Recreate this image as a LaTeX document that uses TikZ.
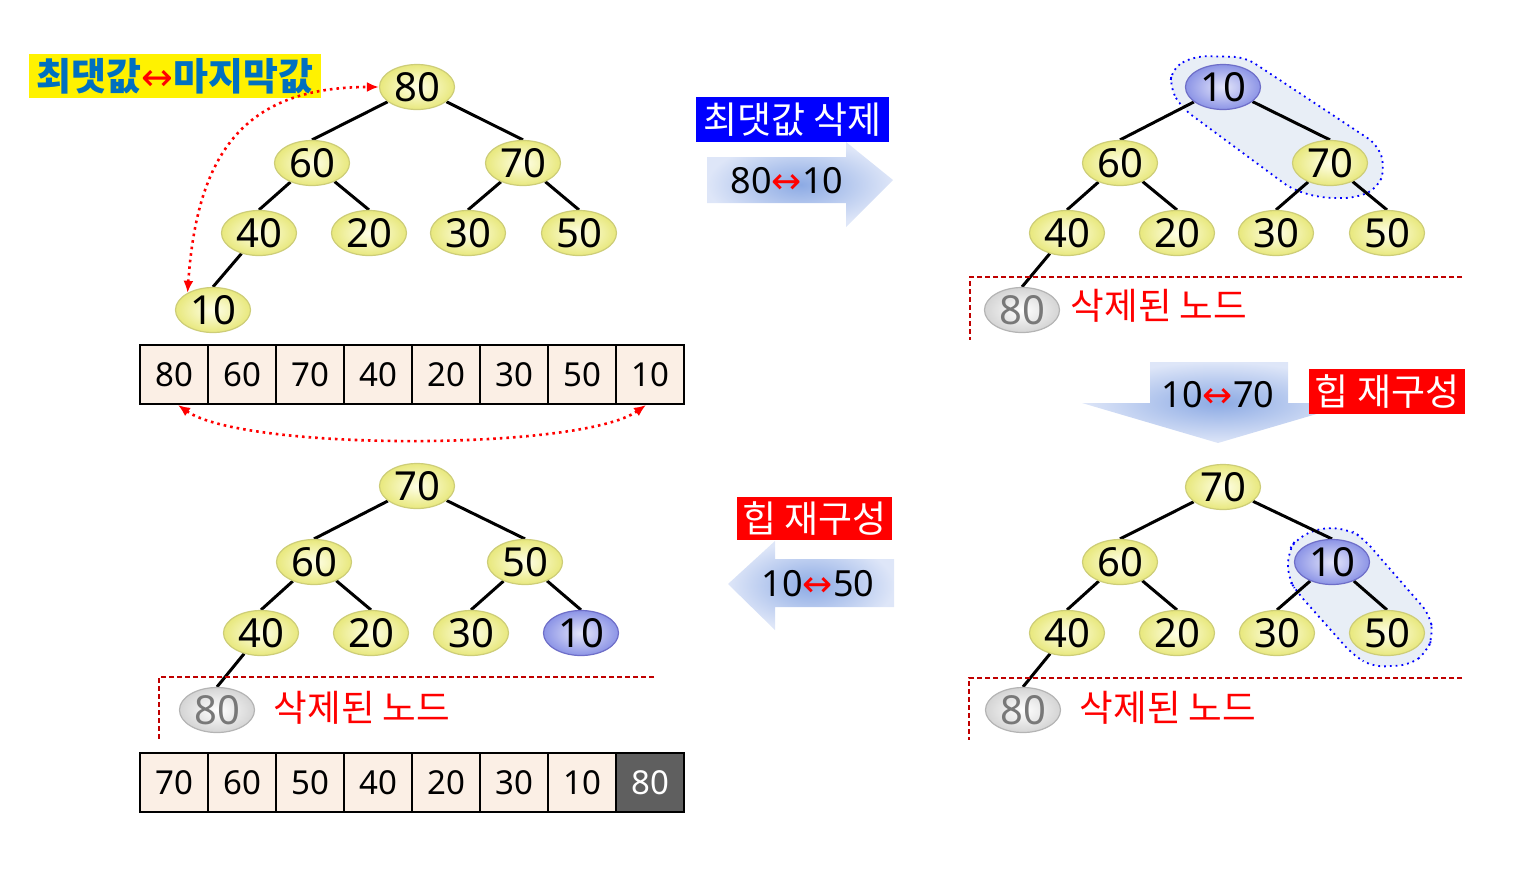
\documentclass[tikz,border=0pt]{standalone}
\usepackage{fontspec}
\setmainfont{Noto Sans}
\newfontfamily\kr{Noto Sans CJK KR}
\newfontfamily\symfont{DejaVu Sans}
\usetikzlibrary{shapes.geometric,arrows.meta}
\definecolor{yin}{RGB}{255,255,232}
\definecolor{yout}{RGB}{232,232,125}
\definecolor{ydraw}{RGB}{205,205,120}
\definecolor{bin}{RGB}{228,230,250}
\definecolor{bout}{RGB}{140,148,230}
\definecolor{bdraw}{RGB}{110,110,200}
\definecolor{gin}{RGB}{255,255,255}
\definecolor{gout}{RGB}{212,212,212}
\definecolor{gdraw}{RGB}{180,180,180}
\definecolor{cellfill}{RGB}{251,239,229}
\definecolor{hlfill}{RGB}{232,238,246}
\definecolor{ddred}{RGB}{192,0,0}
\definecolor{arrin}{RGB}{140,170,228}
\definecolor{arrout}{RGB}{222,230,248}
\definecolor{lblblue}{RGB}{0,112,192}
\definecolor{darkcell}{RGB}{95,95,95}
\definecolor{grtext}{RGB}{120,120,120}
\pgfdeclarelayer{hl}
\pgfdeclarelayer{edges}
\pgfsetlayers{hl,edges,main}
\newcommand{\lr}{{\symfont\color{red}↔}}
\tikzset{
  heapnode/.style={ellipse, minimum width=37.5pt, minimum height=22.5pt, inner sep=0pt,
    line width=0.6pt, shading=radial, font=\fontsize{20}{20}\selectfont},
  ynode/.style={heapnode, draw=ydraw, inner color=yin, outer color=yout},
  bnode/.style={heapnode, draw=bdraw, inner color=bin, outer color=bout},
  gnode/.style={heapnode, draw=gdraw, inner color=gin, outer color=gout, text=grtext},
  tedge/.style={line width=1.5pt, black},
  cell/.style={draw, line width=1pt, fill=cellfill, minimum width=34pt, minimum height=29.5pt,
    inner sep=0pt, font=\fontsize{16.5}{17}\selectfont},
  darkc/.style={cell, fill=darkcell, text=white},
  hlzone/.style={fill=hlfill, draw=blue, dotted, line width=0.9pt, rounded corners=6pt},
  rdash/.style={draw=ddred, line width=0.75pt, dash pattern=on 2.5pt off 1.5pt},
  swaparrow/.style={red, dotted, line width=1.3pt, {Latex[length=6pt,width=5pt]}-{Latex[length=6pt,width=5pt]}},
  bigarrow/.style={inner color=arrin, outer color=arrout},
  arrlabel/.style={font=\fontsize{18}{18}\selectfont, inner sep=0pt},
  tagbox/.style={inner sep=0pt, font=\kr\fontsize{18.5}{18.5}\selectfont, text=white},
  dellabel/.style={inner sep=0pt, font=\kr\fontsize{18.3}{18.3}\selectfont, text=red}
}
\begin{document}
\begin{tikzpicture}[x=0.5pt,y=-0.5pt]
\useasboundingbox (0,0) rectangle (1517,874);

% ---------------- Tree 1 (top left)
\node[ynode] (a80) at (417,87) {80};
\node[ynode] (a60) at (312,163) {60};
\node[ynode] (a70) at (523,163) {70};
\node[ynode] (a40) at (259,233) {40};
\node[ynode] (a20) at (369,233) {20};
\node[ynode] (a30) at (468,233) {30};
\node[ynode] (a50) at (579,233) {50};
\node[ynode] (a10) at (213,310) {10};
\begin{pgfonlayer}{edges}
\draw[tedge] (a80) -- (a60.north);
\draw[tedge] (a80) -- (a70.north);
\draw[tedge] (a60) -- (a40.north);
\draw[tedge] (a60) -- (a20.north);
\draw[tedge] (a70) -- (a30.north);
\draw[tedge] (a70) -- (a50.north);
\draw[tedge] (a40) -- (a10.north);
\end{pgfonlayer}
\node[fill=yellow, minimum width=146pt, minimum height=22pt, inner sep=0pt,
  text=lblblue, font=\kr\bfseries\fontsize{19}{19}\selectfont] (lab1) at (175,76) {최댓값{\mdseries\lr}마지막값};
\draw[swaparrow] (a10.146) to[out=86,in=180,looseness=1.25] (a80.west);

% array 1
\foreach \v [count=\i] in {80,60,70,40,20,30,50,10}
  \node[cell] (p\i) at ({174+68*(\i-1)},374.5) {\v};
\draw[swaparrow] ([xshift=2pt]p1.south) to[out=-35,in=-145,looseness=0.44] ([xshift=-2pt]p8.south);

% ---------------- Arrow 1
\shade[bigarrow] (707,157) -- (846,157) -- (846,142) -- (893,180) -- (846,227) -- (846,203) -- (707,203) -- cycle;
\node[arrlabel] (t1) at (787,181) {80\lr 10};
\node[tagbox, fill=blue, minimum width=96.5pt, minimum height=22.5pt] (box1) at (792.5,119.5) {최댓값 삭제};

% ---------------- Tree 2 (top right)
\begin{pgfonlayer}{hl}
\draw[hlzone] (1172,68) -- (1195,56) -- (1245,57) -- (1378,145) -- (1385,168) -- (1378,188)
  -- (1356,198) -- (1322,198) -- (1293,190) -- (1182,108) -- (1170,88) -- cycle;
\end{pgfonlayer}
\node[bnode] (b10) at (1223,87) {10};
\node[ynode] (b60) at (1120,163) {60};
\node[ynode] (b70) at (1330,163) {70};
\node[ynode] (b40) at (1067,233) {40};
\node[ynode] (b20) at (1177,233) {20};
\node[ynode] (b30) at (1276,233) {30};
\node[ynode] (b50) at (1387,233) {50};
\node[gnode] (b80) at (1022,310) {80};
\begin{pgfonlayer}{edges}
\draw[tedge] (b10) -- (b60.north);
\draw[tedge] (b10) -- (b70.north);
\draw[tedge] (b60) -- (b40.north);
\draw[tedge] (b60) -- (b20.north);
\draw[tedge] (b70) -- (b30.north);
\draw[tedge] (b70) -- (b50.north);
\draw[tedge] (b40) -- (b80.north);
\end{pgfonlayer}
\draw[rdash] (1462,277) -- (970,277) -- (970,340);
\node[dellabel] (del2) at (1159,306) {삭제된 노드};

% ---------------- Arrow 2 (down)
\shade[bigarrow] (1150,362) -- (1288,362) -- (1288,403) -- (1354,403) -- (1218,443) -- (1082,403) -- (1150,403) -- cycle;
\node[arrlabel] (t2) at (1218,395) {10\lr 70};
\node[tagbox, fill=red, minimum width=78pt, minimum height=22.5pt] (box2) at (1387,391.5) {힙 재구성};

% ---------------- Tree 3 (bottom right)
\begin{pgfonlayer}{hl}
\draw[hlzone] (1288,552) -- (1297,538) -- (1323,527) -- (1350,530) -- (1363,538) -- (1430,615)
  -- (1433,635) -- (1427,652) -- (1410,665) -- (1373,667) -- (1353,655) -- (1297,592) -- (1288,578) -- cycle;
\end{pgfonlayer}
\node[ynode] (c70) at (1223,487) {70};
\node[ynode] (c60) at (1120,562) {60};
\node[bnode] (c10) at (1332,562) {10};
\node[ynode] (c40) at (1067,633) {40};
\node[ynode] (c20) at (1177,633) {20};
\node[ynode] (c30) at (1277,633) {30};
\node[ynode] (c50) at (1387,633) {50};
\node[gnode] (c80) at (1023,710) {80};
\begin{pgfonlayer}{edges}
\draw[tedge] (c70) -- (c60.north);
\draw[tedge] (c70) -- (c10.north);
\draw[tedge] (c60) -- (c40.north);
\draw[tedge] (c60) -- (c20.north);
\draw[tedge] (c10) -- (c30.north);
\draw[tedge] (c10) -- (c50.north);
\draw[tedge] (c40) -- (c80.north);
\end{pgfonlayer}
\draw[rdash] (1462,678) -- (969,678) -- (969,740);
\node[dellabel] (del3) at (1168,708) {삭제된 노드};

% ---------------- Arrow 3 (left)
\shade[bigarrow] (894,559) -- (775,559) -- (775,541) -- (728,584) -- (775,630) -- (775,607) -- (894,607) -- cycle;
\node[arrlabel] (t3) at (818,584) {10\lr 50};
\node[tagbox, fill=red, minimum width=77.5pt, minimum height=21.5pt] (box3) at (814.5,518.5) {힙 재구성};

% ---------------- Tree 4 (bottom left)
\node[ynode] (d70) at (417,486) {70};
\node[ynode] (d60) at (314,562) {60};
\node[ynode] (d50) at (525,562) {50};
\node[ynode] (d40) at (261,633) {40};
\node[ynode] (d20) at (371,633) {20};
\node[ynode] (d30) at (471,633) {30};
\node[bnode] (d10) at (581,633) {10};
\node[gnode] (d80) at (217,710) {80};
\begin{pgfonlayer}{edges}
\draw[tedge] (d70) -- (d60.north);
\draw[tedge] (d70) -- (d50.north);
\draw[tedge] (d60) -- (d40.north);
\draw[tedge] (d60) -- (d20.north);
\draw[tedge] (d50) -- (d30.north);
\draw[tedge] (d50) -- (d10.north);
\draw[tedge] (d40) -- (d80.north);
\end{pgfonlayer}
\draw[rdash] (654,677) -- (159,677) -- (159,740);
\node[dellabel] (del4) at (362,708) {삭제된 노드};

% array 2
\foreach \v [count=\i] in {70,60,50,40,20,30,10}
  \node[cell] (q\i) at ({174+68*(\i-1)},782.5) {\v};
\node[darkc] (q8) at (650,782.5) {80};
\end{tikzpicture}
\end{document}
